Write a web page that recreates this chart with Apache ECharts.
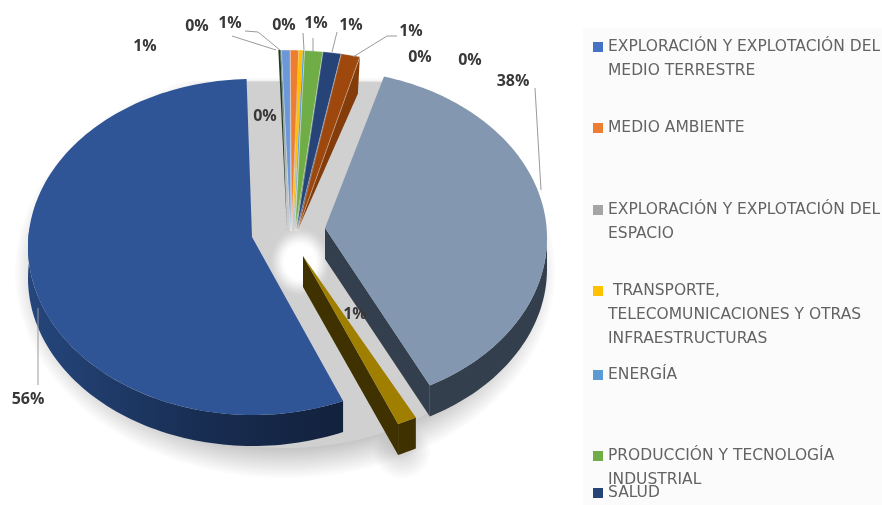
<!DOCTYPE html>
<html><head><meta charset="utf-8">
<style>html,body{margin:0;background:#fff}#c{width:882px;height:505px;filter:blur(0.45px)}</style>
<script src="https://cdn.jsdelivr.net/npm/echarts@6/dist/echarts.min.js"></script>
</head><body><div id="c"></div>
<script>
// Data, clockwise from the start of the big grey-blue slice
const sliceNames = [
  'EXPLORACIÓN Y EXPLOTACIÓN DEL\nESPACIO', 'DEFENSA', 'EXPLORACIÓN Y EXPLOTACIÓN DEL\nMEDIO TERRESTRE',
  'AGRICULTURA', 'EDUCACIÓN', 'CULTURA', 'ENERGÍA', 'MEDIO AMBIENTE',
  ' TRANSPORTE,\nTELECOMUNICACIONES Y OTRAS\nINFRAESTRUCTURAS', 'SISTEMAS POLÍTICOS',
  'PRODUCCIÓN Y TECNOLOGÍA\nINDUSTRIAL', 'SALUD', 'OTROS'];
const sliceValues = [37.6, 1.4, 56.1, 0.12, 0.03, 0.03, 0.53, 0.5, 0.25, 0.1, 1.1, 1.1, 1.14];
const topColors  = ['#8497B0','#9F7E00','#2F5597','#1F3A1F','#3A5A3A','#264478','#6C98D8','#ED7D31','#FFC000','#5B9BD5','#70AD47','#264478','#9E480E'];
const wallColors = ['#343F4D','#3F3200','#1F3864','#14250F','#14250F','#14250F','#3F6390','#9C5120','#A07C00','#3F6390','#4A7530','#1B3156','#843C0B'];
const legendOrder = [2, 7, 0, 8, 6, 10, 11];
const legendColors = ['#4472C4','#ED7D31','#A5A5A5','#FFC000','#5B9BD5','#70AD47','#264478'];

// Layout
const legendLineY = [47, 128, 210, 291, 375, 456, 493];
const labelXY = [[513,81],[355,314],[28,399],[265,116],[197,26],[420,57],[230,23],[145,46],[470,60],[284,25],[316,23],[351,25],[411,31]];
const leaderLines = [
  [[535,88],[541,190]], null, [[38,385],[38,308]], null, [[232,36],[276,50]], null, [[245,31],[258,32],[280,50]],
  null, null, [[303,33],[304,50]], [[313,38],[313,52]], [[337,32],[332,52]], [[397,36],[387,36],[353,57]]];
const START = 16, DEPTH = 31, SHADOW = '#D0D0D0';
const TOTAL = sliceValues.reduce((a,b)=>a+b,0);
function geom(i){
  if(i===0) return {cx:322,cy:238,rx:225,ry:168,ax:325,ay:228};
  if(i===1) return {cx:308,cy:270,rx:225,ry:168,ax:303,ay:256};
  if(i===2) return {cx:253,cy:247,rx:225,ry:168,ax:252,ay:237};
  return {cx:286,cy:226,rx:268,ry:176,ax:287+(i-3)*1.15,ay:231,small:true};
}
const pt=(g,t,dy=0)=>{const r=t*Math.PI/180;return [g.cx+g.rx*Math.sin(r), g.cy-g.ry*Math.cos(r)+dy];};
function arc(g,a,b,dy=0){const n=Math.max(2,Math.ceil(Math.abs(b-a)/1.5));const o=[];for(let k=0;k<=n;k++)o.push(pt(g,a+(b-a)*k/n,dy));return o;}

function sliceSeries(i){
  const before = sliceValues.slice(0,i).reduce((a,b)=>a+b,0);
  const a = START + before/TOTAL*360, b = a + sliceValues[i]/TOTAL*360;
  return {
    type:'custom', name:sliceNames[i], coordinateSystem:'none', silent:true, animation:false,
    itemStyle:{color:topColors[i]}, data:[sliceValues[i]],
    renderItem(){
      const g=geom(i), kids=[], A=[g.ax,g.ay];
      if(!g.small){
        const lo=Math.max(a,90), hi=Math.min(b,277);
        if(hi>lo){
          const top=arc(g,lo,hi), bot=arc(g,lo,hi,DEPTH).reverse();
          kids.push({type:'polygon',shape:{points:top.concat(bot)},style:{
            fill:{type:'linear',x:0,y:0,x2:1,y2:0,colorStops:i===2
              ?[{offset:0,color:'#25467C'},{offset:.55,color:'#182D52'},{offset:1,color:'#12213C'}]
              :[{offset:0,color:wallColors[i]},{offset:1,color:wallColors[i]}]}}});
        }
      }
      if(b<180){
        const O=pt(g,b);
        const pts=g.small?[A,O,[O[0]-2,O[1]+37]]:[A,O,[O[0],O[1]+DEPTH],[A[0],A[1]+DEPTH]];
        kids.push({type:'polygon',shape:{points:pts},style:{fill:wallColors[i]}});
      } else if(g.small && b>360){
        const O=pt(g,b);
        kids.push({type:'polygon',shape:{points:[A,O,[O[0]-2,O[1]+37]]},style:{fill:wallColors[i]}});
      }
      kids.push({type:'polygon',shape:{points:[A].concat(arc(g,a,b))},
        style:{fill:topColors[i],stroke:g.small&&sliceValues[i]>0.4?'rgba(255,255,255,.5)':'none',lineWidth:.7}});
      if(leaderLines[i]) kids.push({type:'polyline',shape:{points:leaderLines[i]},style:{stroke:'#9a9a9a',lineWidth:1,fill:'none'}});
      kids.push({type:'text',x:labelXY[i][0],y:labelXY[i][1],style:{text:Math.round(sliceValues[i])+'%',
        align:'center',verticalAlign:'middle',fill:'#383838',fontFamily:'Open Sans',fontWeight:'bold',fontSize:16}});
      return {type:'group',children:kids};
    }
  };
}

function softEllipse(cx,cy,rxIn,ryIn,spread,rings,alpha,top){
  const out=[];
  for(let k=rings;k>=1;k--){
    const t=k/rings, e={cx,cy,rx:rxIn+spread*t,ry:ryIn+spread*t};
    out.push({type:'polygon',shape:{points:arc(e,0,360).map(p=>[p[0],Math.max(p[1],top)])},style:{fill:`rgba(0,0,0,${alpha})`}});
  }
  return out;
}
const backdrop = {
  type:'custom', name:'sombra', coordinateSystem:'none', silent:true, animation:false, z:0, data:[1],
  renderItem(){
    const hole=[];
    for(let k=24;k>=0;k--){
      const t=k/24, v=Math.round(255-(255-208)*t*t*(3-2*t));
      hole.push({type:'polygon',shape:{points:arc({cx:300,cy:262,rx:14+18*t,ry:16+20*t},0,360)},style:{fill:`rgb(${v},${v},${v})`}});
    }
    const inner=arc({cx:285,cy:272,rx:240,ry:176},0,360).map(p=>[p[0],Math.max(p[1],81)]);
    return {type:'group',children:[
      {type:'rect',shape:{x:0,y:0,width:883,height:505},style:{fill:'#ffffff'}},
      ...softEllipse(285,272,240,176,30,14,0.0145,81),
      ...softEllipse(402,452,6,4,22,9,0.014,0),
      {type:'polygon',shape:{points:inner},style:{fill:SHADOW}},
      {type:'rect',shape:{x:240,y:82,width:150,height:130},style:{fill:SHADOW,shadowBlur:5,shadowColor:SHADOW}},
      ...hole,
      {type:'rect',shape:{x:583,y:28,width:299,height:477},style:{fill:'#FBFBFB'}}
    ]};
  }
};

const legends = legendOrder.map((s,k)=>{
  const lines = sliceNames[s].split('\n').length;
  const h = lines===1 ? 10 : 10 + (lines-1)*24;
  return {
    data:[sliceNames[s]], orient:'vertical', left:593, top:legendLineY[k]-12, padding:0,
    itemWidth:10, itemHeight:h, itemGap:0, selectedMode:false, symbolKeepAspect:false,
    icon:`path://M0,0H10V10H0Z M0,${h}L0.01,${h}`,
    itemStyle:{color:legendColors[k],borderWidth:0},
    textStyle:{fontFamily:'DejaVu Sans',fontSize:15.5,color:'#636363',lineHeight:24}
  };
});

const chart = echarts.init(document.getElementById('c'),null,{renderer:'canvas'});
chart.setOption({animation:false,backgroundColor:'#fff',legend:legends,
  series:[backdrop].concat(sliceValues.map((v,i)=>sliceSeries(i)))});
</script></body></html>
